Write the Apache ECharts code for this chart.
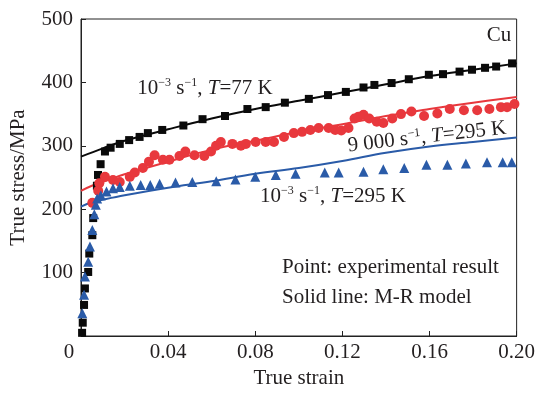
<!DOCTYPE html>
<html><head><meta charset="utf-8">
<script src="https://cdn.jsdelivr.net/npm/echarts@6/dist/echarts.min.js"></script>
<style>html,body{margin:0;padding:0;background:#fff}#c{width:538px;height:395px}</style>
</head><body><div id="c"></div>
<script>
// ---- data ----
const xTicks = [0, 0.04, 0.08, 0.12, 0.16, 0.20];
const yTicks = [0, 100, 200, 300, 400, 500];

// 10^-3 s^-1, T=77 K : experiment (black squares)
const k77Strain = [0.0005,0.0008,0.0014,0.0018,0.0033,0.0038,0.0052,0.0056,0.0073,0.0078,0.009,0.011,0.0136,0.0178,0.0221,0.0269,0.0307,0.0373,0.047,0.0558,0.0661,0.0764,0.0848,0.0936,0.1046,0.1134,0.1216,0.1297,0.1347,0.1426,0.1505,0.1597,0.1662,0.1738,0.1795,0.1855,0.1906,0.1979];
const k77Stress = [5,21,49,75,101,130,159,186,237,254,271,291,297,303,309,314,320,325,332,342,347,358,361,368,374,380,385,392,396,399,405,412,413,417,420,423,425,430];
// model line
const k77ModelStrain = [0,0.01,0.02,0.04,0.06,0.08,0.10,0.12,0.14,0.16,0.18,0.20];
const k77ModelStress = [283,296,308,326,343,358,371,384,397,410,420,430];

// 9000 s^-1, T=295 K : experiment (red circles)
const hiStrain = [0.0052,0.0079,0.0084,0.011,0.0147,0.0178,0.0224,0.0247,0.0284,0.0312,0.0338,0.0376,0.0406,0.0452,0.0479,0.0521,0.0566,0.0597,0.062,0.0642,0.0695,0.0734,0.0757,0.0802,0.0848,0.0886,0.0932,0.0977,0.1015,0.1053,0.1091,0.1137,0.1167,0.1195,0.1228,0.1256,0.1274,0.1297,0.1323,0.1358,0.1388,0.1429,0.1469,0.1517,0.1575,0.1636,0.1693,0.1758,0.1819,0.1875,0.1928,0.1956,0.199];
const hiStress = [210,229,241,251,246,243,251,258,265,275,285,278,278,284,291,285,284,291,300,306,303,300,303,306,306,306,314,320,322,325,328,328,325,324,328,343,346,349,343,338,336,343,350,354,347,351,358,356,356,358,361,361,366];
const hiModelStrain = [0,0.005,0.01,0.02,0.04,0.06,0.08,0.10,0.12,0.14,0.16,0.18,0.20];
const hiModelStress = [229,237,243,255,275,294,308,322,334,347,358,368,377];

// 10^-3 s^-1, T=295 K : experiment (blue triangles)
const rtStrain = [0.0006,0.0014,0.0018,0.0033,0.0041,0.0052,0.0061,0.0068,0.0074,0.0091,0.0117,0.0147,0.0178,0.0224,0.0274,0.0318,0.0361,0.0434,0.0511,0.0621,0.0709,0.08,0.0894,0.0985,0.1119,0.1183,0.1297,0.1388,0.1484,0.1586,0.1682,0.1767,0.1864,0.1936,0.1978];
const rtStress = [36,65,94,117,141,167,192,207,217,222,228,233,235,237,238,238,240,242,243,244,247,251,254,256,258,258,259,263,265,270,270,272,274,274,274];
const rtModelStrain = [0,0.005,0.01,0.02,0.04,0.06,0.08,0.10,0.12,0.14,0.16,0.18,0.20];
const rtModelStress = [204,211,215,222,234,244,256,265,276,289,299,306,313];

// ---- chart ----
const F = 'Liberation Serif';
const TXT = '#231f20';
const BLACK = '#0a0a0a', RED = '#e8383d', BLUE = '#2a5ba8';
const zip = (a, b) => a.map((v, i) => [v, b[i]]);

const rich = {
  n: {fontSize: 21, fontFamily: F, fill: TXT, lineHeight: 22},
  s: {fontSize: 12, fontFamily: F, fill: TXT, verticalAlign: 'top'},
  i: {fontSize: 21, fontFamily: F, fill: TXT, fontStyle: 'italic', lineHeight: 22}
};
function txt(x, y, text, opts) {
  return Object.assign({type: 'text', x: x, y: y, z: 10,
    style: Object.assign({text: text, rich: rich, fontSize: 21, fontFamily: F, fill: TXT,
      align: 'center', verticalAlign: 'middle'}, (opts && opts.style) || {})},
    (opts && opts.el) || {});
}

const chart = echarts.init(document.getElementById('c'), null, {renderer: 'canvas'});
chart.setOption({
  animation: false,
  backgroundColor: '#fff',
  grid: {left: 81, right: 19, top: 19, bottom: 59, show: true, borderColor: '#222', borderWidth: 1},
  xAxis: {
    type: 'value', min: xTicks[0], max: xTicks[xTicks.length - 1], interval: 0.04,
    name: 'True strain', nameLocation: 'middle', nameGap: 32,
    nameTextStyle: {fontFamily: F, fontSize: 21, color: TXT},
    axisLine: {show: true, lineStyle: {color: '#222', width: 1}},
    axisTick: {show: true, inside: true, length: 5, lineStyle: {color: '#222'}},
    splitLine: {show: false},
    axisLabel: {
      fontFamily: F, fontSize: 21, color: TXT, margin: 6,
      formatter: v => v === 0 ? '{z|0}' : v.toFixed(2),
      rich: {z: {fontFamily: F, fontSize: 21, color: TXT, padding: [0, 24, 0, 0]}}
    }
  },
  yAxis: {
    type: 'value', min: yTicks[0], max: yTicks[yTicks.length - 1], interval: 100,
    name: 'True stress/MPa', nameLocation: 'middle', nameGap: 52,
    nameTextStyle: {fontFamily: F, fontSize: 21, color: TXT},
    axisLine: {show: true, lineStyle: {color: '#222', width: 1}},
    axisTick: {show: true, inside: true, length: 5, lineStyle: {color: '#222'}},
    splitLine: {show: false},
    axisLabel: {fontFamily: F, fontSize: 21, color: TXT, margin: 8, showMinLabel: false}
  },
  series: [
    {type: 'line', data: zip(k77ModelStrain, k77ModelStress), smooth: 0.4, showSymbol: false,
      lineStyle: {color: BLACK, width: 2}, z: 2},
    {type: 'line', data: zip(hiModelStrain, hiModelStress), smooth: 0.4, showSymbol: false,
      lineStyle: {color: RED, width: 2}, z: 2},
    {type: 'line', data: zip(rtModelStrain, rtModelStress), smooth: 0.4, showSymbol: false,
      lineStyle: {color: BLUE, width: 2}, z: 2},
    {type: 'scatter', data: zip(k77Strain, k77Stress), symbol: 'rect', symbolSize: 8,
      itemStyle: {color: BLACK, opacity: 1}, z: 3},
    {type: 'scatter', data: zip(hiStrain, hiStress), symbol: 'circle', symbolSize: 10,
      itemStyle: {color: RED, opacity: 1}, z: 3},
    {type: 'scatter', data: zip(rtStrain, rtStress), symbol: 'triangle', symbolSize: 10,
      itemStyle: {color: BLUE, opacity: 1}, z: 3}
  ],
  graphic: [
    txt(499, 35, 'Cu'),
    txt(205, 88, '{n|10}{s|−3}{n| s}{s|−1}{n|, }{i|T}{n|=77 K}'),
    txt(427, 137, '{n|9 000 s}{s|−1}{n|, }{i|T}{n|=295 K}', {el: {rotation: 6.5 * Math.PI / 180}}),
    txt(333, 196, '{n|10}{s|−3}{n| s}{s|−1}{n|, }{i|T}{n|=295 K}'),
    txt(282, 267, 'Point: experimental result', {style: {align: 'left'}}),
    txt(282, 297, 'Solid line: M-R model', {style: {align: 'left'}})
  ]
});
</script>
</body></html>
